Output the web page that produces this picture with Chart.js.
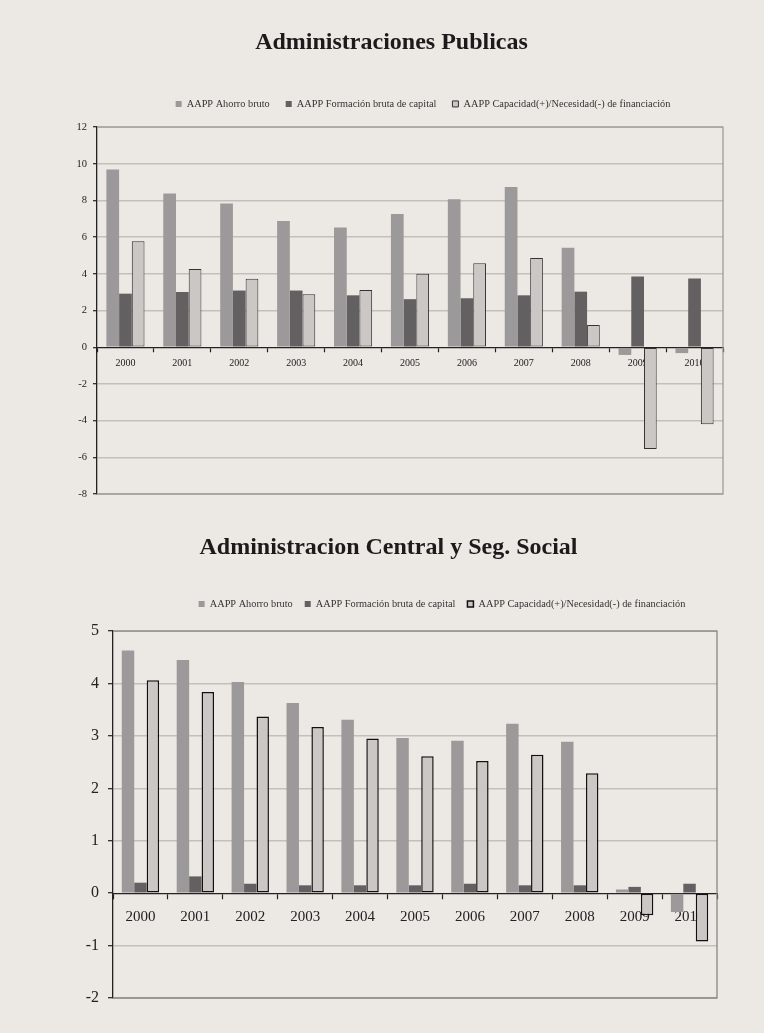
<!DOCTYPE html>
<html lang="es">
<head>
<meta charset="utf-8">
<title>Administraciones Publicas</title>
<script src="https://cdn.jsdelivr.net/npm/chart.js@4.4.1/dist/chart.umd.min.js"></script>
<style>
  html, body { margin: 0; padding: 0; background: #ece8e4; }
  body { width: 764px; height: 1033px; position: relative; overflow: hidden; }
  canvas { position: absolute; left: 0; }
  #chartAAPP { top: 0; }
  #chartACSS { top: 510px; }
</style>
</head>
<body>
<canvas id="chartAAPP" width="764" height="515"></canvas>
<canvas id="chartACSS" width="764" height="523"></canvas>
<script>
const years = ['2000', '2001', '2002', '2003', '2004', '2005', '2006', '2007', '2008', '2009', '2010'];
const seriesNames = [
  'AAPP Ahorro bruto',
  'AAPP Formación bruta de capital',
  'AAPP Capacidad(+)/Necesidad(-) de financiación',
];

// Administraciones Publicas (% PIB)
const ahorroAAPP = [9.69, 8.38, 7.83, 6.88, 6.53, 7.26, 8.07, 8.74, 5.42, -0.42, -0.32];
const formacionAAPP = [2.92, 3.01, 3.09, 3.09, 2.83, 2.62, 2.67, 2.83, 3.03, 3.86, 3.75];
const capacidadAAPP = [5.78, 4.26, 3.74, 2.89, 3.12, 4.01, 4.58, 4.86, 1.21, -5.55, -4.2];

// Administracion Central y Seguridad Social (% PIB)
const ahorroACSS = [4.63, 4.45, 4.03, 3.63, 3.31, 2.96, 2.91, 3.23, 2.89, 0.07, -0.36];
const formacionACSS = [0.2, 0.32, 0.18, 0.15, 0.15, 0.15, 0.18, 0.15, 0.15, 0.12, 0.18];
const capacidadACSS = [4.06, 3.84, 3.37, 3.17, 2.95, 2.61, 2.52, 2.64, 2.29, -0.42, -0.92];

const SERIF = "'Liberation Serif', 'DejaVu Serif', serif";
const colors = {
  ahorro: '#9b9999',
  formacion: '#626061',
  capacidad: '#cbc7c5',
  grid: '#c3bfbb',
  ink: '#222222',
};

// stretch the legend box so there is room between it and the plot,
// and nudge it sideways
const legendTweak = {
  id: 'legendTweak',
  beforeInit(chart, args, opts) {
    const fit = chart.legend.fit;
    chart.legend.fit = function () {
      fit.call(this);
      this.height += opts.gap || 0;
    };
  },
  afterLayout(chart, args, opts) {
    chart.legend.left += opts.dx || 0;
    chart.legend.right += opts.dx || 0;
  },
};

// top / right / bottom edges of the plot area
const plotFrame = {
  id: 'plotFrame',
  beforeDatasetsDraw(chart, args, opts) {
    const { ctx, chartArea: a } = chart;
    ctx.save();
    ctx.strokeStyle = opts.color;
    ctx.lineWidth = opts.width || 1;
    ctx.beginPath();
    ctx.moveTo(a.left, a.top);
    ctx.lineTo(a.right, a.top);
    ctx.lineTo(a.right, a.bottom);
    ctx.lineTo(a.left, a.bottom);
    ctx.stroke();
    ctx.restore();
  },
};

function makeChart(canvasId, cfg) {
  const datasets = [
    { label: seriesNames[0], data: cfg.ahorro, backgroundColor: colors.ahorro, borderWidth: 0 },
    { label: seriesNames[1], data: cfg.formacion, backgroundColor: colors.formacion, borderWidth: 0 },
    {
      label: seriesNames[2],
      data: cfg.capacidad,
      backgroundColor: colors.capacidad,
      borderColor: cfg.barBorder,
      borderWidth: cfg.barBorderWidth,
      borderSkipped: false,
    },
  ];

  return new Chart(document.getElementById(canvasId), {
    type: 'bar',
    data: { labels: years, datasets },
    plugins: [legendTweak, plotFrame],
    options: {
      responsive: false,
      animation: false,
      devicePixelRatio: 1,
      layout: { padding: cfg.padding },
      datasets: { bar: { categoryPercentage: cfg.catPct, barPercentage: 1 } },
      scales: {
        x: {
          position: { y: 0 },
          offset: true,
          grid: {
            offset: true,
            drawOnChartArea: false,
            drawTicks: true,
            tickLength: cfg.tickLength,
            tickColor: colors.ink,
            tickWidth: 1.2,
          },
          border: { color: colors.ink, width: 1.3 },
          ticks: {
            autoSkip: false,
            maxRotation: 0,
            padding: cfg.xPad,
            color: colors.ink,
            font: { family: SERIF, size: cfg.xFont },
          },
        },
        y: {
          min: cfg.min,
          max: cfg.max,
          afterFit: (scale) => { scale.width = cfg.yWidth; },
          grid: {
            color: (c) => (c.tick && c.tick.value === 0 ? 'rgba(0,0,0,0)' : colors.grid),
            lineWidth: 1.4,
            drawTicks: true,
            tickLength: cfg.tickLength,
            tickColor: colors.ink,
            tickWidth: 1.2,
          },
          border: { color: colors.ink, width: 1.3 },
          ticks: {
            stepSize: cfg.step,
            padding: cfg.yPad,
            color: colors.ink,
            font: { family: SERIF, size: cfg.yFont },
          },
        },
      },
      plugins: {
        title: {
          display: true,
          text: cfg.title,
          color: '#1c1a1a',
          font: { family: SERIF, size: 24, weight: 'bold' },
          padding: cfg.titlePad,
        },
        legend: {
          display: true,
          position: 'top',
          fullSize: false,
          labels: {
            boxWidth: 6,
            boxHeight: 6,
            padding: cfg.legendPad,
            color: '#333',
            font: { family: SERIF, size: 10.3 },
          },
        },
        legendTweak: { gap: cfg.legendGap, dx: cfg.legendDx },
        plotFrame: { color: cfg.frameColor, width: 1.3 },
        tooltip: { enabled: false },
      },
    },
  });
}

makeChart('chartAAPP', {
  title: 'Administraciones Publicas',
  ahorro: ahorroAAPP,
  formacion: formacionAAPP,
  capacidad: capacidadAAPP,
  min: -8,
  max: 12,
  step: 2,
  padding: { top: 0, left: 60, right: 41, bottom: 21 },
  yWidth: 37,
  catPct: 0.67,
  barBorder: '#333',
  barBorderWidth: 1,
  tickLength: 4,
  xPad: 6,
  yPad: 6,
  xFont: 10,
  yFont: 10.5,
  titlePad: { top: 28, bottom: 26 },
  legendPad: 16,
  legendGap: 8,
  legendDx: 13,
  frameColor: '#a09c99',
});

makeChart('chartACSS', {
  title: 'Administracion Central y Seg. Social',
  ahorro: ahorroACSS,
  formacion: formacionACSS,
  capacidad: capacidadACSS,
  min: -2,
  max: 5,
  step: 1,
  padding: { top: 0, left: 60, right: 47, bottom: 35 },
  yWidth: 53,
  catPct: 0.68,
  barBorder: '#111',
  barBorderWidth: 1.5,
  tickLength: 5,
  xPad: 10,
  yPad: 9,
  xFont: 15,
  yFont: 16,
  titlePad: { top: 23, bottom: 25 },
  legendPad: 12,
  legendGap: 12,
  legendDx: 27,
  frameColor: '#8a8683',
});
</script>
</body>
</html>
